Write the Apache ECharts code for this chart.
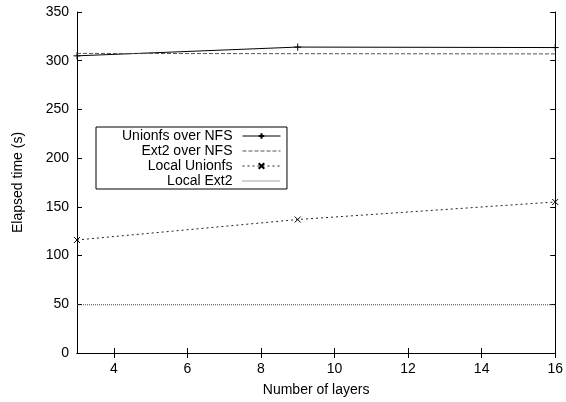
<!DOCTYPE html>
<html>
<head>
<meta charset="utf-8">
<script src="https://cdn.jsdelivr.net/npm/echarts@6/dist/echarts.min.js"></script>
<style>
  html, body { margin: 0; padding: 0; background: #fff; }
  #chart { width: 566px; height: 402px; }
</style>
</head>
<body>
<div id="chart"></div>
<script>
// valeurs
const layers = [3, 9, 16];
const unionfsNfs = [305, 314, 313.5];
const ext2Nfs = [307.5, 307.2, 307];
const localUnionfs = [116, 137, 155];
const localExt2 = [49.5, 49.5, 49.5];
const xTicks = [4, 6, 8, 10, 12, 14, 16];

const font = "Liberation Sans";
const plus = "path://M0,5L10,5M5,0L5,10";
const cross = "path://M0,0L10,10M10,0L0,10";
const noMark = { color: "transparent", borderWidth: 0, opacity: 0 };

function pts(ys) {
	return layers.map((x, i) => [x, ys[i]]);
}

const chart = echarts.init(document.getElementById("chart"));
chart.setOption({
	animation: false,
	textStyle: { fontFamily: font, color: "#000" },
	grid: { left: 77, right: 9, top: 12, bottom: 48 },
	legend: {
		orient: "vertical",
		left: 96,
		top: 127,
		itemGap: 1,
		itemWidth: 38,
		itemHeight: 7,
		align: "right",
		padding: [2, 6, 1, 26],
		borderColor: "#000",
		borderWidth: 1,
		borderRadius: 0,
		lineStyle: { width: 1 },
		textStyle: { fontFamily: font, fontSize: 14, color: "#000", padding: [0, 5, 0, 0], lineHeight: 14 },
		data: [
			{ name: "Unionfs over NFS" },
			{ name: "Ext2 over NFS", itemStyle: noMark },
			{ name: "Local Unionfs" },
			{ name: "Local Ext2", itemStyle: noMark },
		],
	},
	xAxis: [
		{
			type: "value",
			min: 3,
			max: 16,
			name: "Number of layers",
			nameLocation: "middle",
			nameGap: 30,
			nameTextStyle: { fontSize: 14, color: "#000" },
			splitLine: { show: false },
			axisLine: { lineStyle: { color: "#000", width: 1 } },
			axisTick: { inside: true, length: 5, customValues: xTicks, lineStyle: { color: "#000" } },
			axisLabel: { customValues: xTicks, fontSize: 14, color: "#000", margin: 9 },
		},
		{
			type: "value",
			position: "top",
			min: 3,
			max: 16,
			splitLine: { show: false },
			axisLine: { lineStyle: { color: "#000", width: 1 } },
			axisTick: { inside: true, length: 5, customValues: xTicks, lineStyle: { color: "#000" } },
			axisLabel: { show: false },
		},
	],
	yAxis: [
		{
			type: "value",
			min: 0,
			max: 350,
			interval: 50,
			name: "Elapsed time (s)",
			nameLocation: "middle",
			nameGap: 52,
			nameTextStyle: { fontSize: 14, color: "#000" },
			splitLine: { show: false },
			axisLine: { show: true, lineStyle: { color: "#000", width: 1 } },
			axisTick: { inside: true, length: 5, lineStyle: { color: "#000" } },
			axisLabel: { fontSize: 14, color: "#000", margin: 8 },
		},
		{
			type: "value",
			position: "right",
			min: 0,
			max: 350,
			interval: 50,
			splitLine: { show: false },
			axisLine: { show: true, lineStyle: { color: "#000", width: 1 } },
			axisTick: { inside: true, length: 5, lineStyle: { color: "#000" } },
			axisLabel: { show: false },
		},
	],
	series: [
		{
			name: "Unionfs over NFS",
			type: "line",
			data: pts(unionfsNfs),
			symbol: plus,
			symbolSize: 7,
			showAllSymbol: true,
			itemStyle: { color: "#000", borderColor: "#000", borderWidth: 1 },
			lineStyle: { color: "#000", width: 1 },
		},
		{
			name: "Ext2 over NFS",
			type: "line",
			data: pts(ext2Nfs),
			symbol: "none",
			itemStyle: { color: "#555" },
			lineStyle: { color: "#555", width: 1, type: [4, 2] },
		},
		{
			name: "Local Unionfs",
			type: "line",
			data: pts(localUnionfs),
			symbol: cross,
			symbolSize: 6,
			showAllSymbol: true,
			itemStyle: { color: "#000", borderColor: "#000", borderWidth: 1 },
			lineStyle: { color: "#222", width: 1, type: [2, 3] },
		},
		{
			name: "Local Ext2",
			type: "line",
			data: pts(localExt2),
			symbol: "none",
			itemStyle: { color: "#444" },
			lineStyle: { color: "#444", width: 1, type: [1, 1] },
		},
	],
});
</script>
</body>
</html>
